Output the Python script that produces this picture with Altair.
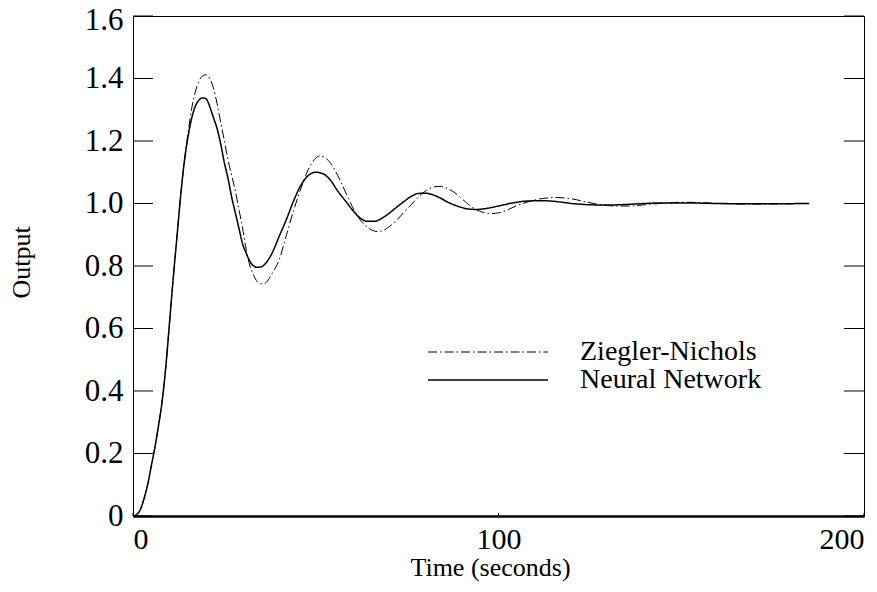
import altair as alt
import pandas as pd

# ---- data ----
time_nn = [0, 1, 2, 3, 4, 5, 6, 7, 8, 9, 10, 11, 12, 13, 14, 15, 16, 17, 18, 19, 20,
           21, 22, 23, 24, 25, 26, 27, 28, 29, 30, 31, 32, 33, 34, 35, 36, 38, 40, 42,
           44, 46, 48, 50, 52, 54, 56, 58, 60, 62, 64, 66, 68, 70, 72, 74, 76, 78, 80,
           82, 84, 86, 88, 90, 92, 94, 96, 98, 100, 104, 108, 112, 116, 120, 125, 130,
           135, 140, 145, 150, 160, 170, 185]
output_nn = [0, 0.005, 0.02, 0.055, 0.10, 0.16, 0.22, 0.29, 0.37, 0.48, 0.62, 0.76,
             0.89, 1.02, 1.13, 1.21, 1.27, 1.31, 1.33, 1.338, 1.335, 1.31, 1.275, 1.24,
             1.19, 1.13, 1.08, 1.02, 0.97, 0.92, 0.87, 0.84, 0.815, 0.80, 0.796, 0.797,
             0.805, 0.84, 0.895, 0.95, 1.01, 1.06, 1.09, 1.10, 1.095, 1.075, 1.04, 1.01,
             0.98, 0.955, 0.943, 0.943, 0.952, 0.968, 0.987, 1.005, 1.022, 1.032, 1.033,
             1.028, 1.018, 1.005, 0.995, 0.987, 0.982, 0.981, 0.983, 0.987, 0.992, 1.002,
             1.008, 1.009, 1.006, 1.000, 0.996, 0.995, 0.997, 1.0, 1.002, 1.002, 1.0,
             0.999, 1.0]

time_zn = [0, 1, 2, 3, 4, 5, 6, 7, 8, 9, 10, 11, 12, 13, 14, 15, 16, 17, 18, 19, 20,
           21, 22, 23, 24, 25, 26, 27, 28, 29, 30, 31, 32, 33, 34, 35, 36, 37, 38, 40,
           42, 44, 46, 48, 50, 51, 52, 54, 56, 58, 60, 62, 64, 66, 67, 68, 70, 72, 74,
           76, 78, 80, 82, 84, 86, 88, 90, 92, 94, 96, 98, 100, 102, 104, 108, 112, 116,
           120, 124, 128, 132, 136, 140, 145, 150, 155, 160, 170, 185]
output_zn = [0, 0.005, 0.02, 0.055, 0.10, 0.16, 0.22, 0.29, 0.37, 0.48, 0.62, 0.76,
             0.89, 1.02, 1.13, 1.22, 1.30, 1.355, 1.39, 1.408, 1.412, 1.40, 1.37, 1.32,
             1.26, 1.20, 1.14, 1.09, 1.04, 0.98, 0.92, 0.85, 0.80, 0.77, 0.75, 0.743,
             0.744, 0.755, 0.775, 0.82, 0.90, 0.98, 1.05, 1.11, 1.145, 1.152, 1.15, 1.13,
             1.09, 1.04, 0.99, 0.95, 0.925, 0.912, 0.91, 0.912, 0.925, 0.945, 0.97, 0.995,
             1.02, 1.04, 1.052, 1.055, 1.048, 1.035, 1.015, 0.995, 0.98, 0.971, 0.968,
             0.970, 0.977, 0.988, 1.005, 1.016, 1.019, 1.015, 1.005, 0.996, 0.992, 0.992,
             0.996, 1.001, 1.004, 1.003, 1.0, 0.998, 1.0]

series_order = ["Ziegler-Nichols", "Neural Network"]
y_ticks = [0, 0.2, 0.4, 0.6, 0.8, 1.0, 1.2, 1.4, 1.6]
x_ticks = [0, 100, 200]

df = pd.concat([
    pd.DataFrame({"time": time_zn, "output": output_zn, "series": series_order[0]}),
    pd.DataFrame({"time": time_nn, "output": output_nn, "series": series_order[1]}),
])
ytick_df = pd.DataFrame({"tick": y_ticks})
xtick_df = pd.DataFrame({"tick": x_ticks})

FONT = "Liberation Serif"
W, H = 731, 500

x_scale = alt.Scale(domain=[0, 200], nice=False)
y_scale = alt.Scale(domain=[0, 1.6], nice=False)

x_axis = alt.Axis(
    values=x_ticks, title="Time (seconds)", labelFlush=True, ticks=False, tickSize=0,
    labelPadding=8, domainWidth=2.5, domainColor="black", grid=False,
    labelFont=FONT, titleFont=FONT, labelColor="black", titleColor="black",
    labelFontSize=30, titleFontSize=26, titleFontWeight="normal",
    titleX=357, titleY=59, titleBaseline="alphabetic", titleAlign="center",
)
y_axis = alt.Axis(
    values=y_ticks, title="Output", ticks=False, tickSize=0, labelPadding=10,
    domain=False, grid=False,
    labelFont=FONT, titleFont=FONT, labelColor="black", titleColor="black",
    labelFontSize=31, titleFontSize=26, titleFontWeight="normal",
    labelExpr="datum.value == 0 ? '0' : format(datum.value, '.1f')",
    labelOffset={"condition": {"test": "datum.value >= 1.6", "value": 4}, "value": 0},
    titleX=-112, titleY=246, titleAngle=270, titleBaseline="middle", titleAlign="center",
)

lines = alt.Chart(df).mark_line(color="black", interpolate="monotone").encode(
    x=alt.X("time:Q", scale=x_scale, axis=x_axis),
    y=alt.Y("output:Q", scale=y_scale, axis=y_axis),
    strokeDash=alt.StrokeDash(
        "series:N",
        scale=alt.Scale(domain=series_order, range=[[9, 3, 1.5, 3], [1, 0]]),
        legend=alt.Legend(
            title=None, orient="none", legendX=294, legendY=322,
            symbolType="stroke", symbolSize=14400, symbolStrokeColor="black",
            symbolStrokeWidth=1.2, labelFont=FONT, labelFontSize=28,
            labelColor="black", labelOffset=31, clipHeight=28, rowPadding=0,
            padding=0, labelLimit=400,
        ),
    ),
    strokeWidth=alt.StrokeWidth(
        "series:N", scale=alt.Scale(domain=series_order, range=[1.0, 1.5]), legend=None
    ),
)

left_ticks = alt.Chart(ytick_df).mark_rule(color="black", strokeWidth=1).encode(
    y=alt.Y("tick:Q", scale=y_scale, title="Output"),
    x=alt.value(0), x2=alt.value(20),
)
right_ticks = alt.Chart(ytick_df).mark_rule(color="black", strokeWidth=1).encode(
    y=alt.Y("tick:Q", scale=y_scale, title="Output"),
    x=alt.value(W - 20), x2=alt.value(W),
)
bottom_ticks = alt.Chart(xtick_df).mark_rule(color="black", strokeWidth=1).encode(
    x=alt.X("tick:Q", scale=x_scale, title="Time (seconds)"),
    y=alt.value(H), y2=alt.value(H - 3),
)

chart = alt.layer(lines, left_ticks, right_ticks, bottom_ticks).properties(
    width=W, height=H,
    autosize=alt.AutoSizeParams(type="none"),
    padding={"left": 125, "top": 8, "right": 4, "bottom": 67},
    background="white",
).configure_view(
    stroke="black", strokeWidth=1
)

chart.save("out.html", embed_options={"renderer": "svg", "actions": False})
